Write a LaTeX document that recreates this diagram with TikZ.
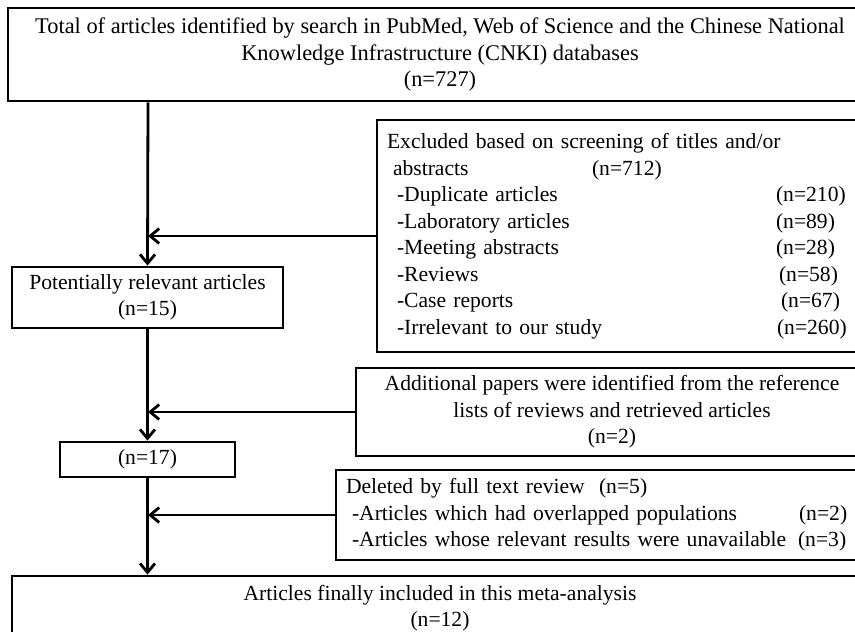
\documentclass[tikz,border=0pt]{standalone}
\usepackage{fontspec}
\setmainfont{Liberation Serif}
\usetikzlibrary{arrows.meta}

\newcommand{\exrow}[3]{\makebox[#1][l]{#2}#3}

\begin{document}
\begin{tikzpicture}[x=0.5pt, y=-0.5pt, line width=1.4pt,
  box/.style={draw, rectangle, inner sep=0pt, font=\fontsize{10.8}{13.25}\selectfont},
  flow/.style={-{Straight Barb[length=4.5pt,width=7.5pt]}}]
\clip (0,0) rectangle (855,631);
\useasboundingbox (0,0) rectangle (855,631);

\coordinate (spine) at (148,0);

\node[box, minimum width=432pt, minimum height=46.5pt, align=center,
  font=\fontsize{11.2}{13.25}\selectfont] (top) at (440,54.5)
  {Total of articles identified by search in PubMed, Web of Science and the Chinese National\\
   Knowledge Infrastructure (CNKI) databases\\ (n=727)};

\node[box, minimum width=246.5pt, minimum height=116pt, text width=236.5pt, align=left] (excl) at (623.5,236)
  {\exrow{102.5pt}{Excluded based on screening of titles and/or}{}\\
   \exrow{102.5pt}{\hspace{3pt}abstracts}{(n=712)}\\
   \exrow{194.5pt}{\hspace{5pt}-Duplicate articles}{(n=210)}\\
   \exrow{194.5pt}{\hspace{5pt}-Laboratory articles}{(n=89)}\\
   \exrow{194.5pt}{\hspace{5pt}-Meeting abstracts}{(n=28)}\\
   \exrow{196pt}{\hspace{5pt}-Reviews}{(n=58)}\\
   \exrow{197pt}{\hspace{5pt}-Case reports}{(n=67)}\\
   \exrow{195pt}{\hspace{5pt}-Irrelevant\ to our study}{(n=260)}};

\node[box, minimum width=135.5pt, minimum height=30.5pt, align=center] (pot) at (147.5,297.5)
  {Potentially relevant articles\\ (n=15)};

\node[box, minimum width=256pt, minimum height=44pt, align=center] (addl) at (612,412)
  {Additional papers were identified\ from the reference\\
   lists of reviews and retrieved articles\\ (n=2)};

\node[box, minimum width=87.5pt, minimum height=17.5pt] (n17) at (147.5,459.5) {(n=17)};

\node[box, minimum width=267pt, minimum height=45pt, text width=257pt, align=left] (del) at (603,515)
  {\exrow{126.5pt}{Deleted by full text review}{(n=5)}\\
   \exrow{226.5pt}{\hspace{3pt}-Articles which had overlapped populations}{(n=2)}\\
   \exrow{226pt}{\hspace{3pt}-Articles whose relevant results were unavailable}{(n=3)}};

\node[box, minimum width=428pt, minimum height=32pt, align=center] (final) at (440,608)
  {Articles finally included in this meta-analysis\\ (n=12)};

% main flow
\draw[flow] (top.south -| spine) -- (pot.north);
\draw[flow] (pot.south) -- (n17.north);
\draw[flow] (n17.south) -- (final.north -| n17);

% side branches
\draw[flow] (excl.west) -- (excl.west -| spine);
\draw[flow] (addl.west) -- (addl.west -| spine);
\draw[flow] (del.west) -- (del.west -| spine);
\end{tikzpicture}
\end{document}
